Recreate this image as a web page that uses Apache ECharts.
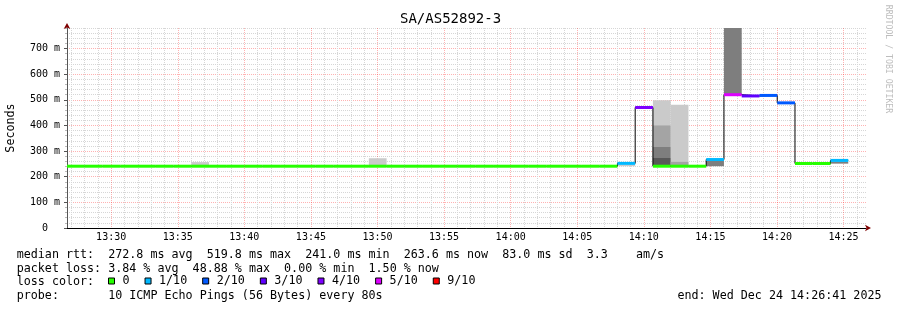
<!DOCTYPE html>
<html><head><meta charset="utf-8">
<script src="https://cdn.jsdelivr.net/npm/echarts@6/dist/echarts.min.js"></script>
<style>html,body{margin:0;padding:0;background:#fff}#c{width:897px;height:310px}</style>
</head><body><div id="c"></div>
<script>
const chartTitle = 'SA/AS52892-3';
const axisStart = '13:26:41';
const axisEnd = '14:26:41';
const stepSeconds = 80;
// end time of every 80 s sample
const sampleEnd = ['13:28:01','13:29:21','13:30:41','13:32:01','13:33:21','13:34:41','13:36:01','13:37:21','13:38:41','13:40:01',
  '13:41:21','13:42:41','13:44:01','13:45:21','13:46:41','13:48:01','13:49:21','13:50:41','13:52:01','13:53:21',
  '13:54:41','13:56:01','13:57:21','13:58:41','14:00:01','14:01:21','14:02:41','14:04:01','14:05:21','14:06:41',
  '14:08:01','14:09:21','14:10:41','14:12:01','14:13:21','14:14:41','14:16:01','14:17:21','14:18:41','14:20:01',
  '14:21:21','14:22:41','14:24:01','14:25:21'];
// median rtt (ms)
const medianMs = [241,241,241,241,241,241,241,241,241,241, 241,241,241,241,241,241,241,241,241,241,
  241,241,241,241,241,241,241,241,241,241, 241,252,470,241,241,241,267,519.8,515,517, 488,251.5,251.5,263.6];
// lost pings out of 10
const lostPings = [0,0,0,0,0,0,0,0,0,0, 0,0,0,0,0,0,0,0,0,0, 0,0,0,0,0,0,0,0,0,0, 0,1,4,0,0,0,1,5,3,2, 2,0,0,1];
// smoke bands: sample index, low ms, high ms, layer (1 = outermost)
const smokeSample = [7, 17, 31, 33, 33, 33, 33, 34, 34, 36, 37, 43];
const smokeLow    = [241, 241, 241, 241, 241, 241, 241, 241, 241, 241, 520, 251];
const smokeHigh   = [257, 272, 246, 498, 400, 316, 273, 481, 258, 263, 800, 259];
const smokeLayer  = [1, 1, 1, 1, 2, 3, 4, 1, 2, 3, 3, 3];
const xTickLabels = ['13:30','13:35','13:40','13:45','13:50','13:55','14:00','14:05','14:10','14:15','14:20','14:25'];
const yTickLabels = ['0','100 m','200 m','300 m','400 m','500 m','600 m','700 m'];
const yMax = 780;
const lossClasses = ['0','1/10','2/10','3/10','4/10','5/10','9/10'];
const lossClassMin = [0, 1, 2, 3, 4, 5, 9];
const legendLines = [
  'median rtt:  272.8 ms avg  519.8 ms max  241.0 ms min  263.6 ms now  83.0 ms sd  3.3    am/s',
  'packet loss: 3.84 % avg  48.88 % max  0.00 % min  1.50 % now',
  'loss color:',
  'probe:       10 ICMP Echo Pings (56 Bytes) every 80s'
];
const endText = 'end: Wed Dec 24 14:26:41 2025';

// styles
const lossColors = ['#26ff00','#00b8ff','#0059ff','#5e00ff','#7e00ff','#dd00ff','#ff0000'];
const smokeColors = ['#cacaca','#a4a4a4','#7e7e7e','#585858','#323232'];
const MONO = 'DejaVu Sans Mono';

function toSec(s){ const p = s.split(':').map(Number); return p[0]*3600 + p[1]*60 + (p[2]||0); }
function classOf(l){ let c = 0; lossClassMin.forEach((m,i)=>{ if (l >= m) c = i; }); return c; }

const xMin = toSec(axisStart), xMax = toSec(axisEnd);
const xMajor = xTickLabels.map(l => toSec(l));
const xLabelMap = {}; xTickLabels.forEach((l,i)=>{ xLabelMap[xMajor[i]] = l; });
const xMinor = [];
for (let t = Math.ceil(xMin/60)*60; t <= xMax; t += 60) if (t % 300 !== 0) xMinor.push(t);
const yMajor = yTickLabels.map(l => parseFloat(l));
const yLabelMap = {}; yTickLabels.forEach((l,i)=>{ yLabelMap[yMajor[i]] = l.indexOf(' ') < 0 ? l + '  ' : l; });
const yMinor = [];
for (let v = 20; v <= yMax; v += 20) if (v % 100 !== 0) yMinor.push(v);

const smokeData = smokeSample.map((s,i)=>{ const t = toSec(sampleEnd[s]); return [t - stepSeconds, t, smokeLow[i], smokeHigh[i], smokeLayer[i]]; });
const medianPath = [];
medianMs.forEach((v,i)=>{ const t = toSec(sampleEnd[i]); medianPath.push([t - stepSeconds, v], [t, v]); });

function clipTo(params, r){
  const cs = params.coordSys;
  return echarts.graphic.clipRectByRect(r, {x: cs.x, y: cs.y, width: cs.width, height: cs.height});
}

const series = [];
series.push({
  type: 'custom', z: 2, silent: true, data: smokeData,
  renderItem(params, api){
    const p0 = api.coord([api.value(0), api.value(3)]);
    const p1 = api.coord([api.value(1), api.value(2)]);
    const r = clipTo(params, {x: p0[0], y: p0[1], width: p1[0]-p0[0], height: p1[1]-p0[1]});
    if (!r) return null;
    return {type: 'rect', shape: r, style: {fill: smokeColors[api.value(4)-1]}};
  }
});
series.push({
  type: 'line', data: medianPath, symbol: 'none', silent: true, z: 3,
  lineStyle: {color: '#000', width: 1}
});
lossClasses.forEach((name, c)=>{
  const data = [];
  medianMs.forEach((v,i)=>{ if (classOf(lostPings[i]) === c) { const t = toSec(sampleEnd[i]); data.push([t - stepSeconds, t, v]); } });
  series.push({
    type: 'custom', name, z: 4, silent: true, data,
    itemStyle: {color: lossColors[c]},
    renderItem(params, api){
      const a = api.coord([api.value(0), api.value(2)]);
      const b = api.coord([api.value(1), api.value(2)]);
      const x1 = Math.max(a[0], params.coordSys.x);
      return {type: 'line', shape: {x1: x1, y1: a[1], x2: b[0], y2: b[1]}, style: {stroke: lossColors[c], lineWidth: 3}};
    }
  });
});

const gridMinor = {color: '#d6d6d6', type: [1, 1], width: 1};
const gridMajor = {color: 'rgba(255,0,0,0.3)', type: [1, 1], width: 1};
const arrowColor = '#7f0000';

function txt(x, y, text, align){
  return {type: 'text', x, y, silent: true, style: {text, x: 0, y: 0, fontFamily: MONO, fontSize: 11.7, fill: '#000', align: align || 'left', verticalAlign: 'middle'}};
}
const LY = [255.4, 268.9, 282.3, 295.8];

const option = {
  animation: false,
  backgroundColor: '#fff',
  title: {text: chartTitle, left: 400, top: 12.5, padding: 0, textStyle: {fontFamily: MONO, fontSize: 14, fontWeight: 'normal', color: '#000'}},
  grid: {left: 67, right: 31, top: 28, bottom: 82, containLabel: false, outerBoundsMode: 'none'},
  legend: {
    data: lossClasses, left: 108, top: 275, orient: 'horizontal', padding: 0,
    itemWidth: 6, itemHeight: 6, itemGap: 15, icon: 'rect', selectedMode: false,
    itemStyle: {borderColor: '#000', borderWidth: 1},
    textStyle: {fontFamily: MONO, fontSize: 11.7, color: '#000', padding: [0, 0, 0, 3]}
  },
  xAxis: [
    {type: 'value', min: xMin, max: xMax, position: 'bottom',
     axisLine: {show: true, lineStyle: {color: arrowColor, width: 0}, symbol: ['none', 'arrow'], symbolSize: [5, 6], symbolOffset: [0, 5]},
     axisTick: {show: false, customValues: xMinor}, axisLabel: {show: false},
     splitLine: {show: true, lineStyle: gridMinor}},
    {type: 'value', min: xMin, max: xMax, position: 'bottom',
     axisLine: {show: true, lineStyle: {color: '#000', width: 1}},
     axisTick: {show: false, customValues: xMajor},
     axisLabel: {show: true, customValues: xMajor, formatter: v => xLabelMap[v] || '', fontFamily: MONO, fontSize: 10, color: '#000', margin: 4},
     splitLine: {show: true, lineStyle: gridMajor}}
  ],
  yAxis: [
    {type: 'value', min: 0, max: yMax, position: 'left',
     axisLine: {show: true, lineStyle: {color: arrowColor, width: 0}, symbol: ['none', 'arrow'], symbolSize: [5, 6], symbolOffset: [0, 5]},
     axisTick: {show: true, customValues: yMinor, length: 2, lineStyle: {color: '#bbb'}}, axisLabel: {show: false},
     splitLine: {show: true, lineStyle: gridMinor}},
    {type: 'value', min: 0, max: yMax, position: 'left',
     name: 'Seconds', nameLocation: 'middle', nameGap: 50, nameRotate: 90,
     nameTextStyle: {fontFamily: MONO, fontSize: 11.7, color: '#000'},
     axisLine: {show: true, lineStyle: {color: '#555', width: 1}},
     axisTick: {show: true, customValues: yMajor, length: 3, lineStyle: {color: '#555'}},
     axisLabel: {show: true, customValues: yMajor, formatter: v => yLabelMap[v] !== undefined ? yLabelMap[v] : '', fontFamily: MONO, fontSize: 10, color: '#000', margin: 7},
     splitLine: {show: true, lineStyle: gridMajor}}
  ],
  series,
  graphic: [
    {type: 'text', x: 888, y: 59, rotation: -Math.PI/2, silent: true,
     style: {text: 'RRDTOOL / TOBI OETIKER', fontFamily: MONO, fontSize: 8.2, fill: '#bdbdbd', align: 'center', verticalAlign: 'middle'}},
    ...legendLines.map((t,i) => txt(16.7, LY[i], t)),
    txt(881.5, LY[3], endText, 'right')
  ]
};
const chart = echarts.init(document.getElementById('c'), null, {renderer: 'canvas'});
chart.setOption(option);
</script></body></html>
